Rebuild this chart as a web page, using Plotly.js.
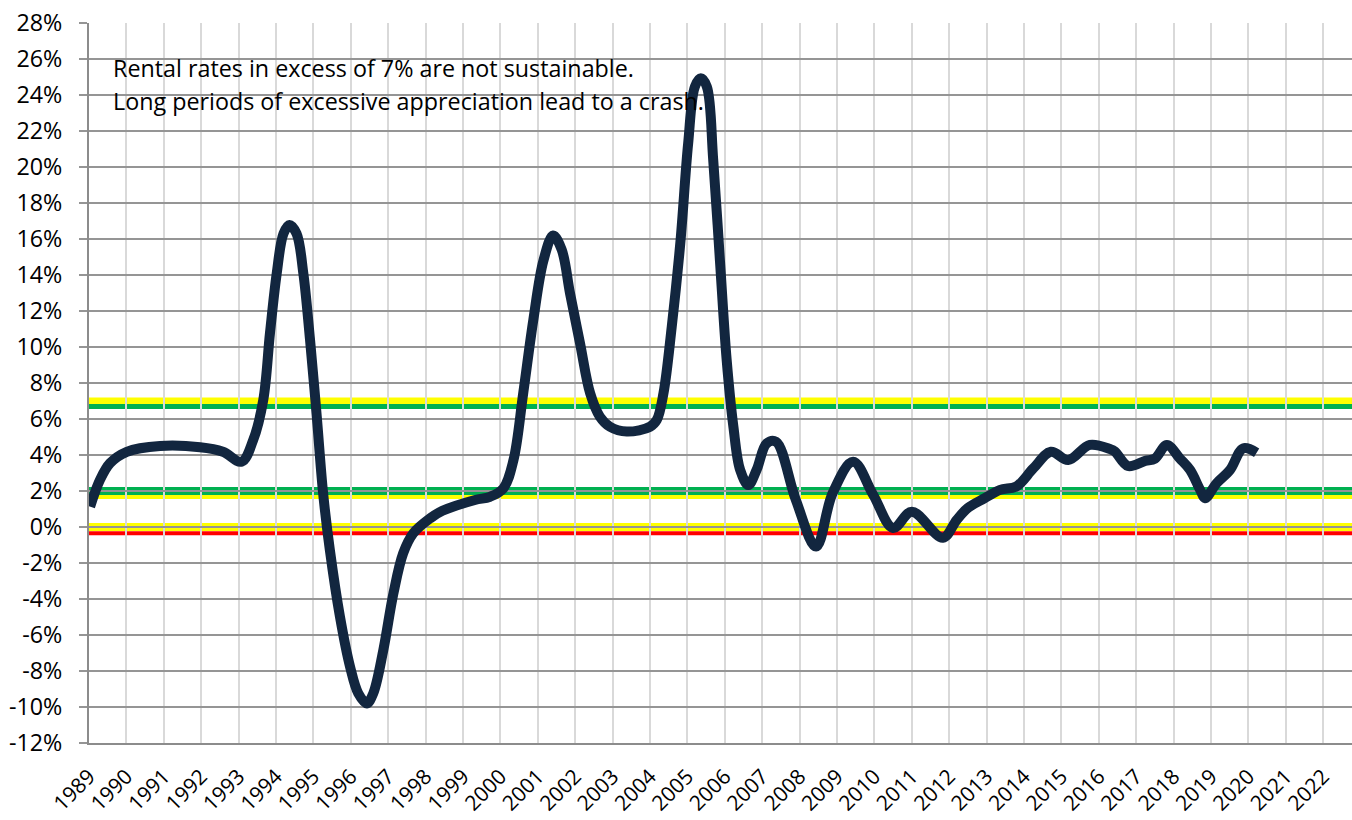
<!DOCTYPE html>
<html>
<head>
<meta charset="utf-8">
<script src="https://cdn.plot.ly/plotly-3.0.1.min.js"></script>
<style>html,body{margin:0;padding:0;background:#fff;}#chart{width:1352px;height:820px;}</style>
</head>
<body>
<div id="chart"></div>
<script>
// Rental rate change (%)
var years = [1989.03,1989.29,1989.56,1990.01,1990.90,1991.97,1992.58,1993.08,1993.39,1993.66,1993.84,1994.02,1994.20,1994.36,1994.55,1994.73,1994.91,1995.09,1995.26,1995.44,1995.71,1995.98,1996.20,1996.43,1996.60,1996.87,1997.14,1997.40,1997.67,1998.12,1998.45,1999.32,1999.72,2000.08,2000.35,2000.61,2000.88,2001.15,2001.41,2001.64,2001.86,2002.13,2002.40,2002.66,2002.93,2003.38,2004.00,2004.18,2004.36,2004.58,2004.81,2005.02,2005.20,2005.36,2005.52,2005.69,2005.87,2006.05,2006.23,2006.41,2006.63,2006.85,2007.12,2007.37,2007.90,2008.44,2008.88,2009.43,2009.97,2010.50,2011.00,2011.83,2012.20,2012.50,2012.95,2013.36,2013.80,2014.25,2014.72,2015.18,2015.76,2016.30,2016.43,2016.78,2017.24,2017.50,2017.82,2018.17,2018.44,2018.71,2018.84,2019.15,2019.51,2019.86,2020.22];
var rates = [1.13,2.6,3.54,4.18,4.5,4.43,4.18,3.63,4.83,7.06,10.8,14.1,16.3,16.78,16.3,14.1,10.4,6.13,1.87,-1.28,-4.98,-7.76,-9.24,-9.8,-9.24,-6.83,-3.68,-1.46,-0.35,0.48,0.9,1.5,1.68,2.15,3.72,7.43,11.5,14.8,16.2,15.4,13.0,10.2,7.43,6.13,5.57,5.3,5.57,5.94,7.43,11.1,15.76,21.3,24.46,24.93,24.46,20.4,14.8,9.28,5.57,3.17,2.33,3.17,4.65,4.74,1.5,-1.09,1.87,3.63,1.78,-0.06,0.85,-0.6,0.39,1.06,1.6,2.06,2.26,3.26,4.18,3.72,4.56,4.33,4.2,3.39,3.67,3.8,4.56,3.8,3.17,2.06,1.6,2.43,3.17,4.37,4.13];

// Threshold bands (value %, colour, width px), drawn in this order
var bandValues = [7.0, 6.7, 1.7, 2.0, 0.0, -0.35];
var bandColors = ['#ffff00', '#00b050', '#ffff00', '#00b050', '#ffff00', '#ff0000'];
var bandWidths = [7, 5, 5, 8, 8, 4];

var yTickVals = [];
var yTickText = [];
for (var v = -12; v <= 28; v += 2) { yTickVals.push(v); yTickText.push(v + '%'); }
var xTickVals = [];
var xTickText = [];
for (var yr = 1989; yr <= 2022; yr++) { xTickVals.push(yr); xTickText.push(String(yr)); }

var noteLines = [
  'Rental rates in excess of 7% are not sustainable.',
  'Long periods of excessive appreciation lead to a crash.'
];

var shapes = bandValues.map(function (val, i) {
  return {
    type: 'line', xref: 'paper', yref: 'y', x0: 0, x1: 1, y0: val, y1: val,
    line: {color: bandColors[i], width: bandWidths[i]}, layer: 'between'
  };
});

var FONT = '"Open Sans", Lato, sans-serif';
var FS = 23.3;

var trace = {
  x: years, y: rates, type: 'scatter', mode: 'lines',
  line: {color: '#12263f', width: 10, shape: 'spline', smoothing: 1},
  hoverinfo: 'x+y'
};

var layout = {
  width: 1352, height: 820,
  margin: {l: 89, r: 0, t: 23, b: 77, pad: 0},
  paper_bgcolor: '#ffffff', plot_bgcolor: '#ffffff',
  showlegend: false,
  font: {family: FONT, size: FS, color: '#000000'},
  xaxis: {
    range: [1989, 2022.77], tickmode: 'array', tickvals: xTickVals, ticktext: xTickText,
    tickangle: -45, showgrid: true, gridcolor: '#d9d9d9', gridwidth: 2,
    zeroline: false, showline: true, linecolor: '#8c8c8c', linewidth: 2,
    ticks: '', ticklabelstandoff: 11,
    tickfont: {family: FONT, size: 21, color: '#000'}
  },
  yaxis: {
    range: [-12, 28], tickmode: 'array', tickvals: yTickVals, ticktext: yTickText,
    showgrid: true, gridcolor: '#959595', gridwidth: 2,
    zeroline: false, showline: true, linecolor: '#8c8c8c', linewidth: 2,
    ticks: 'outside', ticklen: 8, tickwidth: 2, tickcolor: '#959595',
    ticklabelstandoff: 12,
    tickfont: {family: FONT, size: FS, color: '#000'}
  },
  shapes: shapes,
  annotations: [
    {xref: 'x', yref: 'y', x: 1989.59, y: 25.5, xanchor: 'left', yanchor: 'middle',
     text: noteLines[0], showarrow: false, font: {family: FONT, size: FS, color: '#000'}},
    {xref: 'x', yref: 'y', x: 1989.59, y: 23.65, xanchor: 'left', yanchor: 'middle',
     text: noteLines[1], showarrow: false, font: {family: FONT, size: FS, color: '#000'}}
  ]
};

Plotly.newPlot('chart', [trace], layout, {staticPlot: true, displayModeBar: false});
</script>
</body>
</html>
